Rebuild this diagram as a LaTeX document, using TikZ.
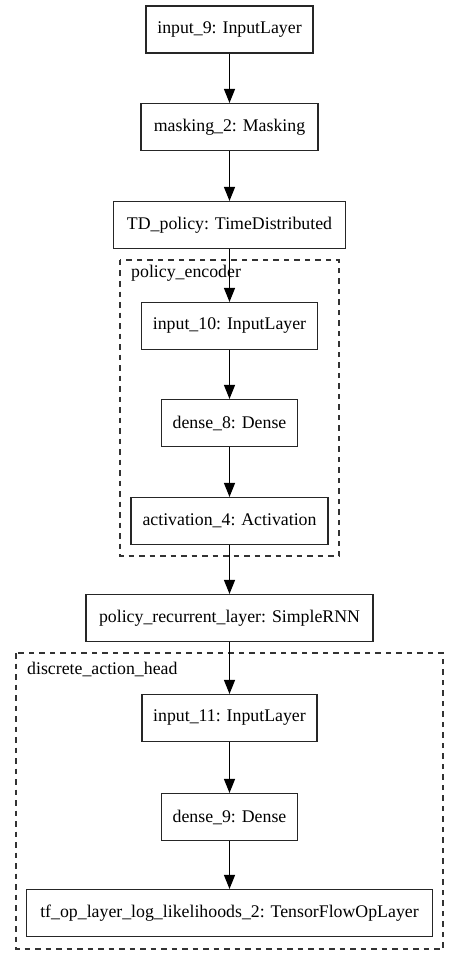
\documentclass[tikz,border=0pt]{standalone}
\usepackage{fontspec}
\setmainfont{Liberation Serif}
\usetikzlibrary{arrows.meta}
\begin{document}
\begin{tikzpicture}[x=1pt,y=-1pt,
  layer/.style={draw=black!85,line width=1.1pt,minimum height=47pt,inner sep=0pt,font=\fontsize{17.8pt}{20pt}\selectfont},
  cluster/.style={draw=black!80,line width=1.1pt,dash pattern=on 5.5pt off 5pt},
  clabel/.style={anchor=west,inner sep=0pt,font=\fontsize{17.8pt}{20pt}\selectfont},
  conn/.style={line width=1.1pt,-{Triangle[length=14pt,width=11pt]}}]
\useasboundingbox (0,0) rectangle (459,965);
% clusters
\draw[cluster] (120,260) rectangle (339,556);
\node[clabel] (lenc) at (131,273) {policy\_encoder};
\draw[cluster] (16,653) rectangle (443,949);
\node[clabel] (lhead) at (27,669) {discrete\_action\_head};
% nodes
\node[layer,minimum width=167pt] (n1) at (229.5,29.5) {input\_9: InputLayer};
\node[layer,minimum width=177pt] (n2) at (229.5,127) {masking\_2: Masking};
\node[layer,minimum width=232pt] (n3) at (229.5,225) {TD\_policy: TimeDistributed};
\node[layer,minimum width=176pt] (n4) at (229.5,326) {input\_10: InputLayer};
\node[layer,minimum width=136pt] (n5) at (229.5,423) {dense\_8: Dense};
\node[layer,minimum width=197pt] (n6) at (229.5,521) {activation\_4: Activation};
\node[layer,minimum width=287pt] (n7) at (229.5,618) {policy\_recurrent\_layer: SimpleRNN};
\node[layer,minimum width=175pt] (n8) at (229.5,718) {input\_11: InputLayer};
\node[layer,minimum width=136pt] (n9) at (229.5,817) {dense\_9: Dense};
\node[layer,minimum width=406pt] (n10) at (229.5,913) {tf\_op\_layer\_log\_likelihoods\_2: TensorFlowOpLayer};
% connectors
\draw[conn] (n1) -- (n2);
\draw[conn] (n2) -- (n3);
\draw[conn] (n3) -- (n4);
\draw[conn] (n4) -- (n5);
\draw[conn] (n5) -- (n6);
\draw[conn] (n6) -- (n7);
\draw[conn] (n7) -- (n8);
\draw[conn] (n8) -- (n9);
\draw[conn] (n9) -- (n10);
\end{tikzpicture}
\end{document}
